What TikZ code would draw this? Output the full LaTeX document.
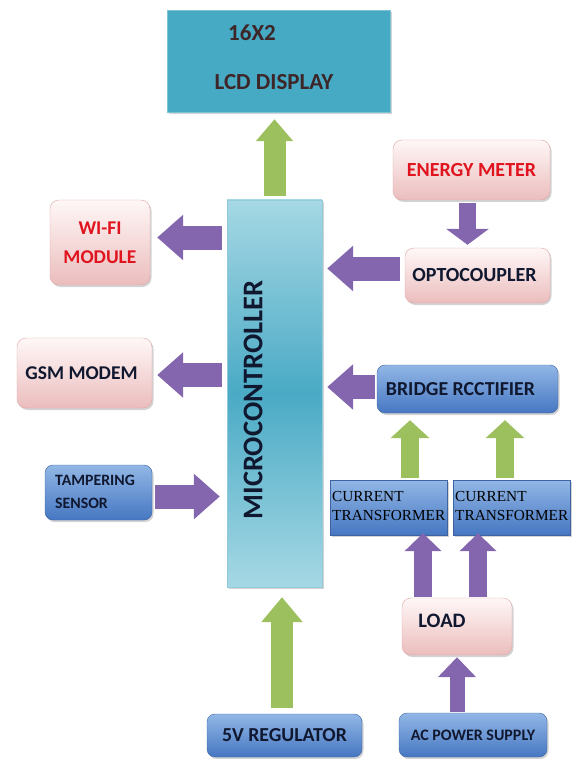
\documentclass[tikz,border=0pt]{standalone}
\usepackage{fontspec}
\setmainfont{Carlito}
\newfontfamily\timesf{Liberation Serif}
\usetikzlibrary{arrows.meta,shadows,calc}
\definecolor{lcdc}{HTML}{46AAC4}
\definecolor{mcL}{HTML}{A6D8E4}
\definecolor{mcD}{HTML}{4AAAC5}
\definecolor{pinkT}{HTML}{FFF7F7}
\definecolor{pinkB}{HTML}{EBBDBD}
\definecolor{pinkD}{HTML}{DDA5A5}
\definecolor{blueT}{HTML}{92B7E6}
\definecolor{blueB}{HTML}{4677C2}
\definecolor{blueD}{HTML}{3D64A0}
\definecolor{purA}{HTML}{8466AE}
\definecolor{grnA}{HTML}{9CC05E}
\definecolor{redT}{HTML}{E0141E}
\definecolor{navyT}{HTML}{101830}
\definecolor{brownT}{HTML}{3E2628}
\tikzset{
  box/.style={draw, inner sep=0pt, align=center, font=\bfseries,
    drop shadow={opacity=0.35, shadow xshift=1.5pt, shadow yshift=-2pt}},
  pinkbox/.style={box, rounded corners=9pt, draw=pinkD, top color=pinkT, bottom color=pinkB},
  bluebox/.style={box, rounded corners=8pt, draw=blueD, top color=blueT, bottom color=blueB, text=navyT},
  ctbox/.style={box, draw=blueD, top color=blueT, bottom color=blueB},
  parr/.style={draw=purA, line width=24pt, -{Triangle[length=26pt,width=44pt]}},
  garr/.style={draw=grnA, line width=22pt, -{Triangle[length=22pt,width=36pt]}},
  lbl/.style={inner sep=0pt, font=\bfseries},
}
\begin{document}
\begin{tikzpicture}[x=1pt,y=-1pt]
\useasboundingbox (0,0) rectangle (573,759);
% boxes
\node[box, draw=lcdc!70!white, fill=lcdc, minimum width=223pt, minimum height=102pt] (lcd) at (278.5,61) {};
\node[lbl, text=brownT, font=\bfseries\fontsize{23}{26}\selectfont] (lcdt1) at (252,33) {16X2};
\node[lbl, text=brownT, font=\bfseries\fontsize{23}{26}\selectfont] (lcdt2) at (274,82) {LCD DISPLAY};

\node[box, draw=mcD!60!white, top color=mcL, bottom color=mcL, middle color=mcD, minimum width=95pt, minimum height=387pt] (micro) at (274.5,393.5) {};
\node[lbl, rotate=90, text=navyT, font=\bfseries\fontsize{28.5}{32}\selectfont] (microt) at (253,400) {MICROCONTROLLER};

\node[pinkbox, text=redT, font=\bfseries\fontsize{20}{24}\selectfont, minimum width=157pt, minimum height=60pt] (energy) at (471.5,170) {ENERGY METER};
\node[pinkbox, text=navyT, font=\bfseries\fontsize{20}{24}\selectfont, minimum width=145pt, minimum height=55pt] (opto) at (477.5,275.5) {\hspace*{-6pt}OPTOCOUPLER};
\node[pinkbox, text=redT, font=\bfseries\fontsize{19.5}{29}\selectfont, minimum width=100pt, minimum height=85pt] (wifi) at (100,242.5) {WI-FI\\MODULE};
\node[pinkbox, text=navyT, font=\bfseries\fontsize{19.5}{23}\selectfont, minimum width=135pt, minimum height=70pt] (gsm) at (84.5,373) {\hspace*{-6pt}GSM MODEM};

\node[bluebox, minimum width=107pt, minimum height=55pt] (tamper) at (98.5,492.5) {};
\node[lbl, text=navyT, align=left, anchor=west, font=\bfseries\fontsize{15.8}{23}\selectfont] (tampert) at (55,492) {TAMPERING\\SENSOR};

\node[bluebox, font=\bfseries\fontsize{19.8}{23}\selectfont, minimum width=181pt, minimum height=48pt] (bridge) at (467.5,389) {\hspace*{-14pt}BRIDGE RCCTIFIER};

\node[ctbox, minimum width=117pt, minimum height=55pt] (ct1) at (388.5,507.5) {};
\node[ctbox, minimum width=117pt, minimum height=55pt] (ct2) at (511.5,507.5) {};
\node[lbl, font=\timesf\fontsize{15.3}{19}\selectfont, align=left, anchor=west] (ct1t) at (332,506) {CURRENT\\TRANSFORMER};
\node[lbl, font=\timesf\fontsize{15.3}{19}\selectfont, align=left, anchor=west] (ct2t) at (455,506) {CURRENT\\TRANSFORMER};

\node[pinkbox, minimum width=110pt, minimum height=57pt] (load) at (457,626.5) {};
\node[lbl, text=navyT, font=\bfseries\fontsize{20.5}{24}\selectfont] (loadt) at (442,621) {LOAD};

\node[bluebox, font=\bfseries\fontsize{16}{19}\selectfont, minimum width=148pt, minimum height=44pt] (ac) at (473,735) {AC POWER SUPPLY};
\node[bluebox, font=\bfseries\fontsize{19.8}{23}\selectfont, minimum width=155pt, minimum height=43pt] (reg) at (284.5,735.5) {5V REGULATOR};

% arrows
\draw[garr, shorten <=4pt, shorten >=7pt] (micro.north) -- (micro.north |- lcd.south);
\draw[parr, shorten <=5pt, shorten >=7pt] ([yshift=5pt]micro.west |- wifi.east) -- ([yshift=5pt]wifi.east);
\draw[parr, shorten <=5pt, shorten >=5pt] ([yshift=-2pt]micro.west |- gsm.east) -- ([yshift=-2pt]gsm.east);
\draw[parr, shorten <=3pt, shorten >=7pt] ([yshift=-4pt]tamper.east) -- ([yshift=-4pt]micro.west |- tamper.east);
\draw[parr, shorten <=5pt, shorten >=5pt] ([yshift=7pt]opto.west) -- ([yshift=7pt]micro.east |- opto.west);
\draw[parr, shorten <=2pt, shorten >=5pt] ([yshift=2pt]bridge.west) -- ([yshift=2pt]micro.east |- bridge.west);
\draw[parr, line width=17pt, -{Triangle[length=16pt,width=42pt]}, shorten <=3pt, shorten >=3pt] ([xshift=-4pt]energy.south) -- ([xshift=-4pt]energy.south |- opto.north);
\draw[garr, line width=18pt, -{Triangle[length=18pt,width=38pt]}, shorten <=2pt, shorten >=7pt] ([xshift=21.5pt]ct1.north) -- ([xshift=21.5pt]ct1.north |- bridge.south);
\draw[garr, line width=18pt, -{Triangle[length=18pt,width=38pt]}, shorten <=2pt, shorten >=7pt] ([xshift=-6.5pt]ct2.north) -- ([xshift=-6.5pt]ct2.north |- bridge.south);
\draw[parr, line width=18pt, -{Triangle[length=18pt,width=36pt]}, shorten <=1pt, shorten >=-2pt] ([xshift=-34pt]load.north) -- ([xshift=-34pt]load.north |- ct1.south);
\draw[parr, line width=18pt, -{Triangle[length=18pt,width=36pt]}, shorten <=1pt, shorten >=-2pt] ([xshift=21pt]load.north) -- ([xshift=21pt]load.north |- ct2.south);
\draw[parr, line width=15pt, -{Triangle[length=20pt,width=37pt]}, shorten <=1pt, shorten >=2pt] (load.south |- ac.north) -- (load.south);
\draw[garr, line width=22pt, -{Triangle[length=25pt,width=40pt]}, shorten <=6pt, shorten >=10pt] ([xshift=-2.5pt]reg.north) -- ([xshift=-2.5pt]reg.north |- micro.south);
\end{tikzpicture}
\end{document}
